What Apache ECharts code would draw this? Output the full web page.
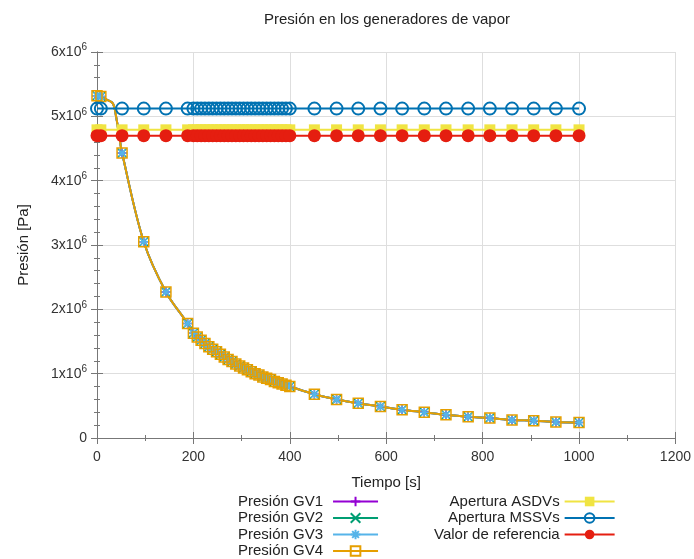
<!DOCTYPE html>
<html>
<head>
<meta charset="utf-8">
<script src="https://cdn.jsdelivr.net/npm/echarts@6/dist/echarts.min.js"></script>
<style>
  html, body { margin: 0; background: #fff; }
  #chart { width: 694px; height: 559px; }
</style>
</head>
<body>
<div id="chart"></div>
<script>
// tiempos con marcador [s]
const tiempo = [0, 8, 52, 97, 143, 188,
  200, 208, 216, 224, 232, 240, 248, 256, 264, 272, 280, 288, 296,
  304, 312, 320, 328, 336, 344, 352, 360, 368, 376, 384, 392, 400,
  451, 497, 542, 588, 633, 679, 724, 770, 815, 861, 906, 952, 1000]
// presión en los GV [Pa] (las cuatro curvas coinciden)
const presion = [5.32e6, 5.31e6, 4.43e6, 3.05e6, 2.27e6, 1.78e6,
  1.63e6, 1.57e6, 1.52e6, 1.47e6, 1.42e6, 1.38e6, 1.34e6, 1.30e6, 1.26e6, 1.22e6, 1.19e6, 1.15e6, 1.12e6,
  1.09e6, 1.06e6, 1.03e6, 1.00e6, 0.98e6, 0.95e6, 0.93e6, 0.91e6, 0.88e6, 0.86e6, 0.84e6, 0.82e6, 0.80e6,
  0.68e6, 0.60e6, 0.54e6, 0.49e6, 0.44e6, 0.40e6, 0.36e6, 0.33e6, 0.31e6, 0.28e6, 0.27e6, 0.25e6, 0.24e6]
// puntos intermedios del trazo, sin marcador
const tiempoTrazo = [20, 33, 40, 46]
const presionTrazo = [5.26e6, 5.20e6, 4.98e6, 4.70e6]
// niveles constantes [Pa]
const aperturaASDV = 4.79e6
const aperturaMSSV = 5.12e6
const valorReferencia = 4.70e6

const FONT = "'Liberation Sans', Arial, sans-serif"

// curva de presión: puntos con marcador + puntos sólo de trazo
function curvaPresion() {
  const pts = tiempo.map((t, i) => ({ value: [t, presion[i]] }))
  tiempoTrazo.forEach((t, i) => pts.push({ value: [t, presionTrazo[i]], symbol: "none" }))
  return pts.sort((a, b) => a.value[0] - b.value[0])
}
function nivel(p) {
  return tiempo.map(t => [t, p])
}

const simbolos = {
  mas: "path://M0,5L10,5M5,0L5,10",
  cruz: "path://M0,0L10,10M10,0L0,10",
  asterisco: "path://M0,5L10,5M5,0L5,10M1.5,1.5L8.5,8.5M8.5,1.5L1.5,8.5",
}

function serieGV(nombre, color, symbol, size) {
  return {
    name: nombre,
    type: "line",
    data: curvaPresion(),
    smooth: 0.35,
    showAllSymbol: true,
    symbol: symbol,
    symbolSize: size,
    lineStyle: { color: color, width: 2 },
    itemStyle: { color: "transparent", borderColor: color, borderWidth: 1.5 },
  }
}

function etiquetaY(v) {
  if (v === 0) return "{m|0}"
  return "{m|" + v / 1e6 + "x10}{s|6}"
}

const chart = echarts.init(document.getElementById("chart"))

const ejeX = {
  type: "value", min: 0, max: 1200, interval: 200,
  axisLine: { show: true, lineStyle: { color: "#777" } },
  axisTick: { show: true, inside: true, length: 6, lineStyle: { color: "#777" } },
  minorTick: { show: true, splitNumber: 2, length: 3, lineStyle: { color: "#777" } },
}
const ejeY = {
  type: "value", min: 0, max: 6e6, interval: 1e6,
  axisLine: { show: true, lineStyle: { color: "#777" } },
  axisTick: { show: true, inside: true, length: 6, lineStyle: { color: "#777" } },
  minorTick: { show: true, splitNumber: 5, length: 3, lineStyle: { color: "#777" } },
}

const leyendaTexto = (w, pad) => ({
  rich: { t: { width: w, align: "right", fontSize: 15, color: "#222", fontFamily: FONT, padding: [0, pad, 0, 0] } },
})

const option = {
  animation: false,
  textStyle: { fontFamily: FONT },
  title: {
    text: "Presión en los generadores de vapor",
    left: 387, top: 12, padding: 0, textAlign: "center",
    textStyle: { fontSize: 15, fontWeight: "normal", color: "#222", fontFamily: FONT },
  },
  grid: { left: 97, right: 17, top: 52, bottom: 121 },
  xAxis: [
    Object.assign({}, ejeX, {
      position: "bottom",
      name: "Tiempo [s]", nameLocation: "middle", nameGap: 37,
      nameTextStyle: { fontSize: 15, color: "#222", fontFamily: FONT },
      axisLabel: { margin: 12, fontSize: 14, color: "#333", fontFamily: FONT, formatter: v => String(v) },
      splitLine: { show: true, lineStyle: { color: "#dedede", width: 1 } },
    }),
    Object.assign({}, ejeX, { position: "top", axisLabel: { show: false }, splitLine: { show: false } }),
  ],
  yAxis: [
    Object.assign({}, ejeY, {
      position: "left",
      name: "Presión [Pa]", nameLocation: "middle", nameGap: 66,
      nameTextStyle: { fontSize: 15, color: "#222", fontFamily: FONT },
      axisLabel: {
        margin: 10, formatter: etiquetaY,
        rich: {
          m: { fontSize: 14, color: "#333", fontFamily: FONT },
          s: { fontSize: 10, color: "#333", fontFamily: FONT, padding: [0, 0, 9, 0] },
        },
      },
      splitLine: { show: true, lineStyle: { color: "#dedede", width: 1 } },
    }),
    Object.assign({}, ejeY, { position: "right", axisLabel: { show: false }, splitLine: { show: false } }),
  ],
  legend: [
    {
      data: ["Presión GV1", "Presión GV2", "Presión GV3", "Presión GV4"],
      orient: "vertical", left: 238, top: 494, height: 80, align: "right",
      itemWidth: 45, itemHeight: 12, itemGap: 1.5, padding: 0,
      formatter: n => "{t|" + n + "}",
      textStyle: leyendaTexto(90, 5),
    },
    {
      data: ["Apertura ASDVs", "Apertura MSSVs", "Valor de referencia"],
      orient: "vertical", left: 434, top: 494, height: 80, align: "right",
      itemWidth: 50, itemHeight: 12, itemGap: 1.5, padding: 0,
      formatter: n => "{t|" + n + "}",
      textStyle: leyendaTexto(126, 0),
    },
  ],
  series: [
    serieGV("Presión GV1", "#9400d3", simbolos.mas, 10),
    serieGV("Presión GV2", "#009e73", simbolos.cruz, 9),
    serieGV("Presión GV3", "#56b4e9", simbolos.asterisco, 10),
    serieGV("Presión GV4", "#e69f00", "rect", 10),
    {
      name: "Apertura ASDVs", type: "line", data: nivel(aperturaASDV),
      showAllSymbol: true, symbol: "rect", symbolSize: 11,
      lineStyle: { color: "#f0e442", width: 2 },
      itemStyle: { color: "#f0e442" },
    },
    {
      name: "Apertura MSSVs", type: "line", data: nivel(aperturaMSSV),
      showAllSymbol: true, symbol: "circle", symbolSize: 12,
      lineStyle: { color: "#0072b2", width: 2 },
      itemStyle: { color: "transparent", borderColor: "#0072b2", borderWidth: 2 },
    },
    {
      name: "Valor de referencia", type: "line", data: nivel(valorReferencia),
      showAllSymbol: true, symbol: "circle", symbolSize: 13,
      lineStyle: { color: "#e51e10", width: 2 },
      itemStyle: { color: "#e51e10" },
    },
  ],
}

chart.setOption(option)
</script>
</body>
</html>
